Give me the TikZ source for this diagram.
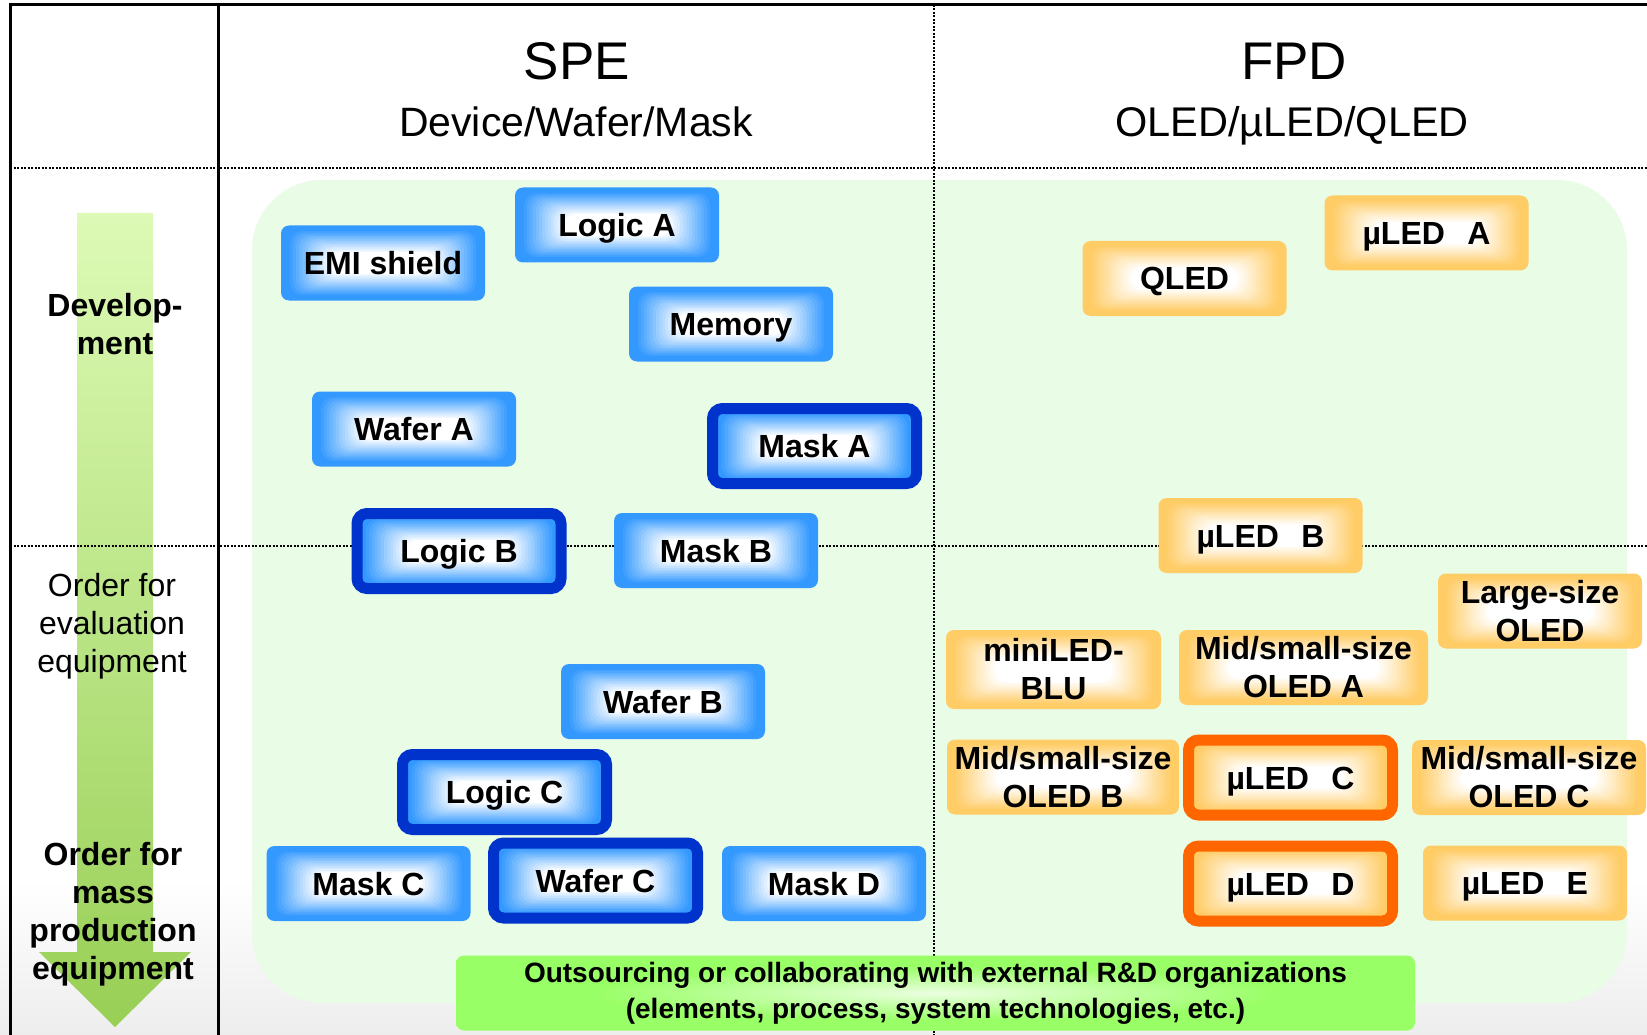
\documentclass[tikz,border=0pt]{standalone}
\usepackage{fontspec}
\setmainfont{Liberation Sans}
\usepackage{xcolor}
\usetikzlibrary{
  shapes,
  arrows
}
\definecolor{boxblue}{HTML}{3399FF}
\definecolor{keyblue}{HTML}{0033CC}
\definecolor{boxorange}{HTML}{FFCC66}
\definecolor{keyorange}{HTML}{FF6600}
\definecolor{boxgreen}{HTML}{99FF66}
\definecolor{areagreen}{HTML}{E8FCE6}
\definecolor{arrowlight}{HTML}{DDFAB6}
\definecolor{arrowdark}{HTML}{98CF55}
\pgfdeclareradialshading{greenglow}{\pgfpoint{0bp}{0bp}}{color(0bp)=(white!80!boxgreen); color(18bp)=(boxgreen); color(50bp)=(boxgreen)}

\begin{document}
\begin{tikzpicture}[
  x=1pt, y=-1pt,
  glow/.style = {fill=#1, path picture={
    \foreach \k in {1,...,14}{
      \pgfmathsetmacro\xin{6+3*\k}
      \pgfmathsetmacro\yin{4+1.6*\k}
      \pgfmathtruncatemacro\mix{\k*100/14}
      \fill[white!\mix!#1, rounded corners=12pt]
        ([xshift=\xin pt, yshift=-\yin pt]path picture bounding box.north west)
        rectangle ([xshift=-\xin pt, yshift=\yin pt]path picture bounding box.south east);
    }}},
  item/.style = {shape=rectangle, rounded corners=8pt,
    minimum width=204pt, minimum height=75pt, inner sep=0pt, align=center,
    font=\fontsize{32}{38}\selectfont\bfseries},
  one/.style = {text height=23pt, text depth=0pt},
  spe/.style = {item, glow=boxblue},
  fpd/.style = {item, glow=boxorange},
  spekey/.style = {spe, draw=keyblue, line width=11pt, rounded corners=10pt},
  fpdkey/.style = {fpd, draw=keyorange, line width=11pt, rounded corners=10pt},
  grid/.style = {line width=2pt, dash pattern=on 2pt off 1.5pt},
  side/.style = {align=center, font=\fontsize{32}{38}\selectfont},
  sidebold/.style = {side, font=\fontsize{32}{38}\selectfont\bfseries}]
  \useasboundingbox (0,0) rectangle (1647,1035);
  \fill[white] (0,0) rectangle (1647,1035);
  \shade[top color=white, bottom color=black!7] (0,880) rectangle (1647,1035);
  \fill[areagreen, rounded corners=70pt] (252,180) rectangle (1627,1003);
  % arrow down the left column
  \shade[top color=arrowlight, bottom color=arrowdark]
    (77,213) -- (153,213) -- (153,952) -- (191,952) -- (115,1027)
    -- (39,952) -- (77,952) -- cycle;
  % table lines
  \draw[grid] (10,168) -- (1647,168);
  \draw[grid] (10,546) -- (1647,546);
  \draw[grid] (934,5) -- (934,1035);
  \draw[line width=3pt] (10,1035) -- (10,5) -- (1647,5);
  \draw[line width=3pt] (218,5) -- (218,1035);
  % headers
  \node[anchor=base, font=\fontsize{53}{60}\selectfont] (spe) at (577,80) {SPE};
  \node[anchor=base, font=\fontsize{41}{46}\selectfont] (spesub) at (576,137) {Device/Wafer/Mask};
  \node[anchor=base, font=\fontsize{53}{60}\selectfont] (fpd) at (1294,80) {FPD};
  \node[anchor=base, font=\fontsize{41.5}{46}\selectfont] (fpdsub) at (1292,137) {OLED/µLED/QLED};
  \node[sidebold] (dev) at (115,324) {Develop-\\ment};
  \node[side] (eval) at (112,626) {Order for\\evaluation\\equipment};
  \node[sidebold] (mass) at (113,914) {Order for\\mass\\production\\equipment};
  % SPE
  \node[spe, one] (emi) at (383,263) {EMI shield};
  \node[spe, one] (logica) at (617,225) {Logic A};
  \node[spe, one] (memory) at (731,324) {Memory};
  \node[spe, one] (wafera) at (414,429) {Wafer A};
  \node[spekey, one] (maska) at (814.5,446) {Mask A};
  \node[spekey, one] (logicb) at (459,551) {Logic B};
  \node[spe, one] (maskb) at (716,550.5) {Mask B};
  \node[spe, one] (waferb) at (663,701.5) {Wafer B};
  \node[spekey, one] (logicc) at (504.5,792) {Logic C};
  \node[spe, one] (maskc) at (368.5,883.5) {Mask C};
  \node[spekey, one] (waferc) at (595.5,880.5) {Wafer C};
  \node[spe, one] (maskd) at (824,883.5) {Mask D};
  % FPD
  \node[fpd, one] (qled) at (1184.5,278.5) {QLED};
  \node[fpd, one] (uleda) at (1426.5,233) {µLED\hspace{0.7em}A};
  \node[fpd, one] (uledb) at (1260.5,535.5) {µLED\hspace{0.7em}B};
  \node[fpd] (largeoled) at (1540,611) {Large-size\\OLED};
  \node[fpd, minimum width=215pt, minimum height=79pt] (miniled) at (1053.5,669.5) {miniLED-\\BLU};
  \node[fpd, minimum width=249pt] (oleda) at (1303.5,667.5) {Mid/small-size\\OLED A};
  \node[fpd, minimum width=232pt] (oledb) at (1063,777) {Mid/small-size\\OLED B};
  \node[fpdkey, one] (uledc) at (1290.5,777.5) {µLED\hspace{0.7em}C};
  \node[fpd, minimum width=234pt] (oledc) at (1529,777.5) {Mid/small-size\\OLED C};
  \node[fpdkey, one] (uledd) at (1290.5,883.5) {µLED\hspace{0.7em}D};
  \node[fpd, one] (ulede) at (1525,883) {µLED\hspace{0.7em}E};
  \node[item, shade, shading=greenglow, minimum width=959pt,
    font=\fontsize{28}{36}\selectfont\bfseries] (outside) at (935.5,993)
    {Outsourcing or collaborating with external R\&D organizations\\(elements, process, system technologies, etc.)};
\end{tikzpicture}
\end{document}
